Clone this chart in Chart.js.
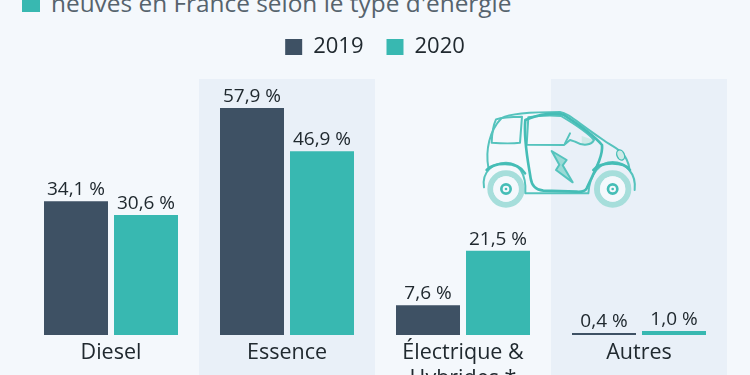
<!DOCTYPE html>
<html lang="fr">
<head>
<meta charset="utf-8">
<script src="https://cdn.jsdelivr.net/npm/chart.js@4/dist/chart.umd.min.js"></script>
<style>
  html, body { margin: 0; padding: 0; background: #f4f8fc; overflow: hidden; }
  #wrap { position: relative; width: 750px; height: 375px; overflow: hidden; }
  #line-chart { position: absolute; left: 0; top: 0; }
  #title { position: absolute; left: 51px; top: -14px; font: 24.4px "Open Sans"; color: #56636d; white-space: nowrap; }
  #mark { position: absolute; left: 22px; top: -6px; width: 18px; height: 18px; background: #38b8b1; }
</style>
</head>
<body>
<div id="wrap">
  <div id="mark"></div>
  <div id="title">neuves en France selon le type d'énergie</div>
  <canvas id="line-chart" width="750" height="375"></canvas>
</div>
<script>
const categories = ["Diesel", "Essence", ["Électrique &", "Hybrides *"], "Autres"]
const years = ["2019", "2020"]
const values2019 = [34.1, 57.9, 7.6, 0.4]
const values2020 = [30.6, 46.9, 21.5, 1.0]
const dark = "#3e5164"
const teal = "#38b8b1"
const bandTop = 65.3

const bands = {
  id: "bands",
  beforeDraw(chart) {
    const { ctx, scales: { x, y } } = chart
    const half = (x.getPixelForTick(1) - x.getPixelForTick(0)) / 2
    ctx.save()
    ctx.fillStyle = "#e9f0f8"
    for (const i of [1, 3]) {
      const top = y.getPixelForValue(bandTop)
      ctx.fillRect(x.getPixelForTick(i) - half, top, half * 2, 375 - top)
    }
    ctx.restore()
  },
}

const valueLabels = {
  id: "valueLabels",
  afterDatasetsDraw(chart) {
    const { ctx } = chart
    ctx.save()
    ctx.font = '19px "Open Sans"'
    ctx.fillStyle = "#20292f"
    ctx.textAlign = "center"
    ctx.textBaseline = "alphabetic"
    chart.data.datasets.forEach((ds, d) => {
      chart.getDatasetMeta(d).data.forEach((bar, i) => {
        const text = ds.data[i].toFixed(1).replace(".", ",") + " %"
        ctx.fillText(text, bar.x, bar.y - 6)
      })
    })
    ctx.restore()
  },
}

// voiture électrique, dessinée dans le repère du zoom (1/3 px)
const car = {
  id: "car",
  afterDraw(chart) {
    const { ctx } = chart
    ctx.save()
    ctx.translate(460, 90)
    ctx.scale(1 / 3, 1 / 3)
    ctx.lineJoin = "round"
    ctx.lineCap = "round"
    for (const cx of [138, 458]) {
      ctx.beginPath()
      ctx.arc(cx, 297, 47, 0, Math.PI * 2)
      ctx.lineWidth = 18
      ctx.strokeStyle = "#a6dedb"
      ctx.stroke()
      ctx.beginPath()
      ctx.arc(cx, 297, 38, 0, Math.PI * 2)
      ctx.fillStyle = "#f4f8fc"
      ctx.fill()
      ctx.beginPath()
      ctx.arc(cx, 297, 14, 0, Math.PI * 2)
      ctx.lineWidth = 8
      ctx.strokeStyle = "#45bdb6"
      ctx.stroke()
      ctx.beginPath()
      ctx.arc(cx, 297, 4, 0, Math.PI * 2)
      ctx.fillStyle = "#45bdb6"
      ctx.fill()
    }
    ctx.fillStyle = "#9bdad6"
    ctx.fill(new Path2D("M275 183 L320 210 L308 226 L338 277 L288 240 L298 224 Z"))
    ctx.fillStyle = "#cfeae8"
    ctx.fill(new Path2D("M365 138 L402 150 C395 165 380 168 365 165 Z"))
    ctx.strokeStyle = "#55c3bd"
    ctx.lineWidth = 6
    const paths = [
      "M85 232 C76 180 88 122 125 84 C150 70 240 66 300 66 C325 70 345 92 430 150 C455 170 500 180 508 235",
      "M72 292 C64 245 100 218 138 218 C175 218 200 250 196 310 L385 310 C390 250 420 216 458 216 C495 216 530 250 524 300",
      "M108 88 C130 80 170 80 186 80 L180 158 C150 162 120 160 95 158 C96 130 100 105 108 88 Z",
      "M205 82 C240 76 280 76 303 78 C340 100 380 125 402 150 C395 165 370 170 345 155 L330 150 L312 165 L200 164 Z",
      "M315 160 L330 130",
      "M275 183 L320 210 L308 226 L338 277 L288 240 L298 224 Z",
    ]
    for (const p of paths) ctx.stroke(new Path2D(p))
    ctx.lineWidth = 8
    ctx.strokeStyle = "#45bdb6"
    ctx.stroke(new Path2D("M196 90 C240 70 290 68 310 74 C350 100 400 135 426 165 C430 200 400 250 380 295 C375 305 365 306 350 305 L250 302 C225 300 215 285 212 265 C205 220 190 150 196 90 Z"))
    ctx.stroke(new Path2D("M80 240 C100 218 170 210 195 250"))
    ctx.stroke(new Path2D("M400 240 C420 215 490 212 510 240"))
    ctx.lineWidth = 4
    ctx.beginPath()
    ctx.ellipse(482, 195, 11, 16, -0.4, 0, Math.PI * 2)
    ctx.fillStyle = "#cfeae8"
    ctx.fill()
    ctx.stroke()
    ctx.restore()
  },
}

new Chart(document.getElementById("line-chart"), {
  type: "bar",
  plugins: [bands, valueLabels, car],
  data: {
    labels: categories,
    datasets: [
      { label: years[0], data: values2019, backgroundColor: dark, minBarLength: 2 },
      { label: years[1], data: values2020, backgroundColor: teal, minBarLength: 2 },
    ],
  },
  options: {
    responsive: false,
    animation: false,
    layout: { padding: { left: 23, right: 23, top: 13, bottom: 0 } },
    datasets: { bar: { categoryPercentage: 140 / 176, barPercentage: 64 / 70 } },
    plugins: {
      tooltip: { enabled: false },
      legend: {
        position: "top",
        labels: {
          boxWidth: 17,
          boxHeight: 16,
          padding: 23,
          color: "#20292f",
          font: { family: "Open Sans", size: 22 },
        },
      },
    },
    scales: {
      x: {
        grid: { display: false, drawTicks: false },
        border: { display: false },
        ticks: {
          color: "#20292f",
          maxRotation: 0,
          autoSkip: false,
          padding: 5,
          font: { family: "Open Sans", size: 21.5 },
        },
        afterFit(scale) {
          scale.height = 40
        },
      },
      y: {
        display: false,
        min: 0,
        max: 68.11,
      },
    },
  },
})
</script>
</body>
</html>
